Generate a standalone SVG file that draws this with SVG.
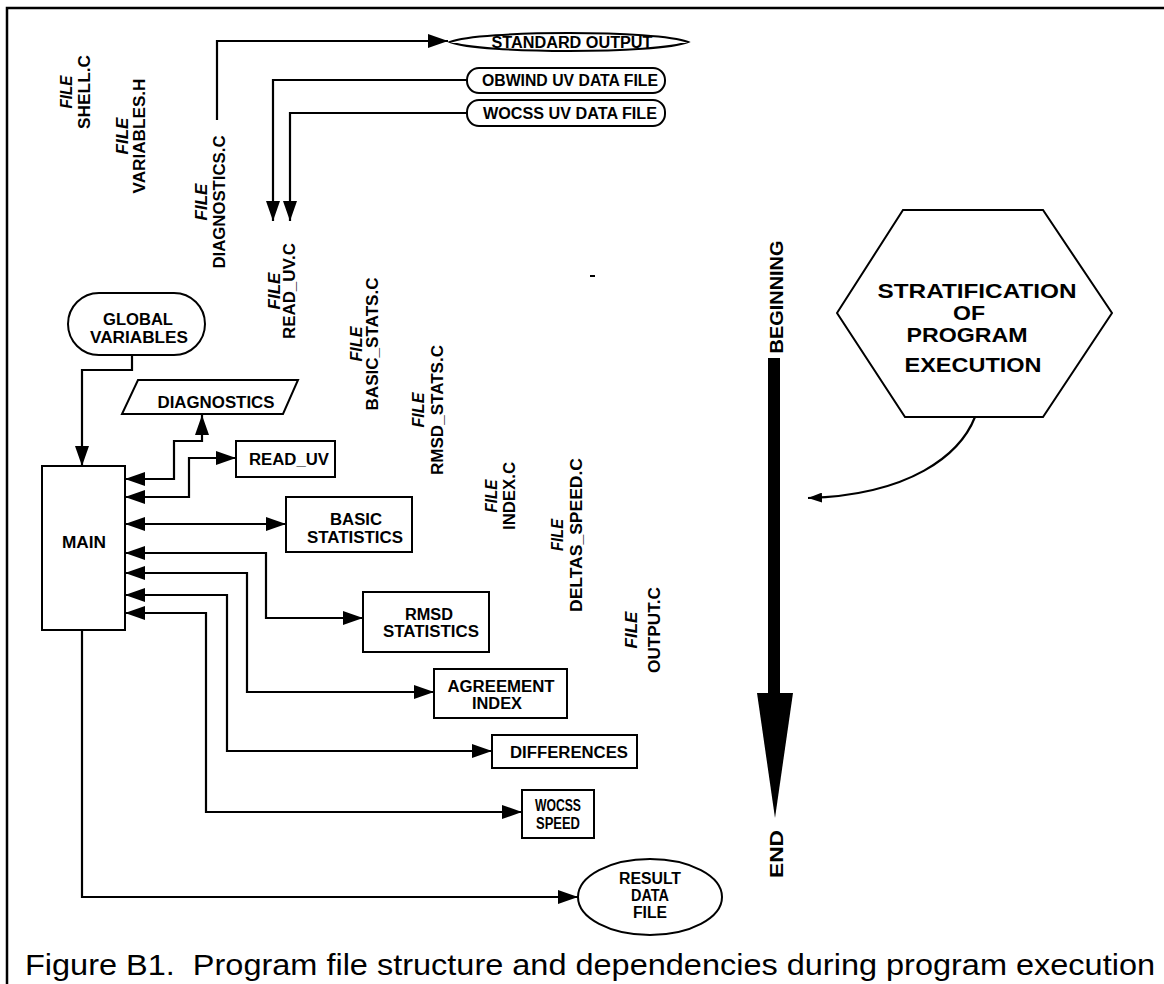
<svg xmlns="http://www.w3.org/2000/svg" width="1164" height="984" viewBox="0 0 1164 984">
<style>
.bx{fill:#fff;stroke:#000;stroke-width:2}
.lb{font-family:"Liberation Sans",Arial,sans-serif;font-weight:bold;font-size:16px;text-anchor:middle;fill:#000}
.fl{font-family:"Liberation Sans",Arial,sans-serif;font-weight:bold;font-size:16px;text-anchor:middle;fill:#000}
.it{font-style:italic}
.cn{fill:none;stroke:#000;stroke-width:2.2}
.cap{font-family:"Liberation Sans",Arial,sans-serif;font-size:29px;fill:#000}
</style>
<defs>
<marker id="ah" markerUnits="userSpaceOnUse" viewBox="0 0 20 14" markerWidth="20" markerHeight="14" refX="20" refY="7" orient="auto-start-reverse"><path d="M0,0 L20,7 L0,14 z" fill="#000"/></marker>
<marker id="ahs" markerUnits="userSpaceOnUse" viewBox="0 0 14 10" markerWidth="14" markerHeight="10" refX="14" refY="5" orient="auto"><path d="M0,0 L14,5 L0,10 z" fill="#000"/></marker>
</defs>
<rect width="1164" height="984" fill="#fff"/>
<g id="frame" fill="none" stroke="#000" stroke-width="2.5">
<path d="M7,984 V8 H1164"/>
</g>
<g id="connectors">
<path class="cn" d="M217,120 V41 H448" marker-end="url(#ah)"/>
<path class="cn" d="M467,80 H273 V221" marker-end="url(#ah)"/>
<path class="cn" d="M467,113 H290 V221" marker-end="url(#ah)"/>
<path class="cn" d="M132,355 V370 H82 V466" marker-end="url(#ah)"/>
<path class="cn" d="M125,479 H174 V441 H202 V415" marker-start="url(#ah)" marker-end="url(#ah)"/>
<path class="cn" d="M125,497 H189 V458 H236" marker-start="url(#ah)" marker-end="url(#ah)"/>
<path class="cn" d="M125,524 H286" marker-start="url(#ah)" marker-end="url(#ah)"/>
<path class="cn" d="M125,553 H266 V618 H363" marker-start="url(#ah)" marker-end="url(#ah)"/>
<path class="cn" d="M125,573 H247 V692 H434" marker-start="url(#ah)" marker-end="url(#ah)"/>
<path class="cn" d="M125,595 H227 V751 H492" marker-start="url(#ah)" marker-end="url(#ah)"/>
<path class="cn" d="M125,613 H206 V812 H522" marker-start="url(#ah)" marker-end="url(#ah)"/>
<path class="cn" d="M82,630 V897 H578" marker-end="url(#ah)"/>
<path class="cn" d="M975,417 C960,455 910,495 808,498" marker-end="url(#ahs)"/>
</g>
<g id="file-labels">
<text class="fl" transform="translate(0,92) rotate(-90)"><tspan class="it" x="0" y="72" textLength="33" lengthAdjust="spacingAndGlyphs">FILE</tspan><tspan x="0" y="90" textLength="74" lengthAdjust="spacingAndGlyphs">SHELL.C</tspan></text>
<text class="fl" transform="translate(0,136) rotate(-90)"><tspan class="it" x="0" y="128" textLength="37" lengthAdjust="spacingAndGlyphs">FILE</tspan><tspan x="0" y="145" textLength="115" lengthAdjust="spacingAndGlyphs">VARIABLES.H</tspan></text>
<text class="fl" transform="translate(0,202) rotate(-90)"><tspan class="it" x="0" y="207" textLength="37" lengthAdjust="spacingAndGlyphs">FILE</tspan><tspan x="0" y="225" textLength="133" lengthAdjust="spacingAndGlyphs">DIAGNOSTICS.C</tspan></text>
<text class="fl" transform="translate(0,291) rotate(-90)"><tspan class="it" x="0" y="280" textLength="37" lengthAdjust="spacingAndGlyphs">FILE</tspan><tspan x="0" y="295" textLength="96" lengthAdjust="spacingAndGlyphs">READ_UV.C</tspan></text>
<text class="fl" transform="translate(0,344) rotate(-90)"><tspan class="it" x="0" y="362" textLength="35" lengthAdjust="spacingAndGlyphs">FILE</tspan><tspan x="0" y="378" textLength="133" lengthAdjust="spacingAndGlyphs">BASIC_STATS.C</tspan></text>
<text class="fl" transform="translate(0,410) rotate(-90)"><tspan class="it" x="0" y="424" textLength="35" lengthAdjust="spacingAndGlyphs">FILE</tspan><tspan x="0" y="443" textLength="130" lengthAdjust="spacingAndGlyphs">RMSD_STATS.C</tspan></text>
<text class="fl" transform="translate(0,496) rotate(-90)"><tspan class="it" x="0" y="497" textLength="33" lengthAdjust="spacingAndGlyphs">FILE</tspan><tspan x="0" y="515" textLength="68" lengthAdjust="spacingAndGlyphs">INDEX.C</tspan></text>
<text class="fl" transform="translate(0,535) rotate(-90)"><tspan class="it" x="0" y="563" textLength="32" lengthAdjust="spacingAndGlyphs">FILE</tspan><tspan x="0" y="582" textLength="154" lengthAdjust="spacingAndGlyphs">DELTAS_SPEED.C</tspan></text>
<text class="fl" transform="translate(0,630) rotate(-90)"><tspan class="it" x="0" y="637" textLength="37" lengthAdjust="spacingAndGlyphs">FILE</tspan><tspan x="0" y="660" textLength="86" lengthAdjust="spacingAndGlyphs">OUTPUT.C</tspan></text>
</g>
<rect x="590" y="275" width="5" height="2" fill="#000"/>
<g id="standard-output">
<path class="bx" d="M450,42 C480,30 658,30 688,42 C658,54 480,54 450,42 Z"/>
<text class="lb" x="572" y="48" textLength="161" lengthAdjust="spacingAndGlyphs">STANDARD OUTPUT</text>
</g>
<g id="obwind-file">
<rect class="bx" x="467" y="68" width="198" height="25" rx="12"/>
<text class="lb" x="570" y="86" textLength="176" lengthAdjust="spacingAndGlyphs">OBWIND UV DATA FILE</text>
</g>
<g id="wocss-file">
<rect class="bx" x="467" y="100" width="198" height="26" rx="12"/>
<text class="lb" x="570" y="119" textLength="174" lengthAdjust="spacingAndGlyphs">WOCSS UV DATA FILE</text>
</g>
<g id="global-variables">
<rect class="bx" x="68" y="293" width="137" height="62" rx="31"/>
<text class="lb" x="138" y="325" textLength="70" lengthAdjust="spacingAndGlyphs">GLOBAL</text>
<text class="lb" x="139" y="343" textLength="98" lengthAdjust="spacingAndGlyphs">VARIABLES</text>
</g>
<g id="diagnostics">
<polygon class="bx" points="138,380 298,380 283,414 122,414"/>
<text class="lb" x="216" y="408" textLength="117" lengthAdjust="spacingAndGlyphs">DIAGNOSTICS</text>
</g>
<g id="main">
<rect class="bx" x="42" y="466" width="83" height="164"/>
<text class="lb" x="84" y="548" textLength="44" lengthAdjust="spacingAndGlyphs">MAIN</text>
</g>
<g id="read-uv">
<rect class="bx" x="236" y="441" width="99" height="36"/>
<text class="lb" x="289" y="465" textLength="80" lengthAdjust="spacingAndGlyphs">READ_UV</text>
</g>
<g id="basic-statistics">
<rect class="bx" x="286" y="497" width="126" height="55"/>
<text class="lb" x="356" y="525" textLength="52" lengthAdjust="spacingAndGlyphs">BASIC</text>
<text class="lb" x="355" y="543" textLength="96" lengthAdjust="spacingAndGlyphs">STATISTICS</text>
</g>
<g id="rmsd-statistics">
<rect class="bx" x="363" y="592" width="126" height="60"/>
<text class="lb" x="429" y="620" textLength="48" lengthAdjust="spacingAndGlyphs">RMSD</text>
<text class="lb" x="431" y="637" textLength="96" lengthAdjust="spacingAndGlyphs">STATISTICS</text>
</g>
<g id="agreement-index">
<rect class="bx" x="434" y="669" width="133" height="49"/>
<text class="lb" x="501" y="692" textLength="107" lengthAdjust="spacingAndGlyphs">AGREEMENT</text>
<text class="lb" x="497" y="709" textLength="50" lengthAdjust="spacingAndGlyphs">INDEX</text>
</g>
<g id="differences">
<rect class="bx" x="492" y="735" width="145" height="33"/>
<text class="lb" x="569" y="758" textLength="118" lengthAdjust="spacingAndGlyphs">DIFFERENCES</text>
</g>
<g id="wocss-speed">
<rect class="bx" x="522" y="790" width="72" height="48"/>
<text class="lb" x="558" y="811" textLength="46" lengthAdjust="spacingAndGlyphs">WOCSS</text>
<text class="lb" x="558" y="829" textLength="44" lengthAdjust="spacingAndGlyphs">SPEED</text>
</g>
<g id="result-data-file">
<ellipse class="bx" cx="650" cy="897" rx="72" ry="38"/>
<text class="lb" x="650" y="884" textLength="62" lengthAdjust="spacingAndGlyphs">RESULT</text>
<text class="lb" x="650" y="901" textLength="38" lengthAdjust="spacingAndGlyphs">DATA</text>
<text class="lb" x="650" y="918" textLength="34" lengthAdjust="spacingAndGlyphs">FILE</text>
</g>
<g id="stratification">
<polygon class="bx" points="837,313 903,210 1043,210 1112,313 1043,417 905,417"/>
<text class="lb" style="font-size:20px" x="977" y="298" textLength="199" lengthAdjust="spacingAndGlyphs">STRATIFICATION</text>
<text class="lb" style="font-size:20px" x="969" y="320" textLength="32" lengthAdjust="spacingAndGlyphs">OF</text>
<text class="lb" style="font-size:20px" x="967" y="342" textLength="121" lengthAdjust="spacingAndGlyphs">PROGRAM</text>
<text class="lb" style="font-size:20px" x="973" y="372" textLength="137" lengthAdjust="spacingAndGlyphs">EXECUTION</text>
</g>
<g id="timeline">
<rect x="768" y="358" width="12" height="336" fill="#000"/>
<polygon points="757,693 793,693 775,818" fill="#000"/>
<text class="fl" style="font-size:18px" transform="translate(0,297) rotate(-90)" x="0" y="783" textLength="113" lengthAdjust="spacingAndGlyphs">BEGINNING</text>
<text class="fl" style="font-size:18px" transform="translate(0,854) rotate(-90)" x="0" y="783" textLength="48" lengthAdjust="spacingAndGlyphs">END</text>
</g>
<g id="caption">
<text class="cap" x="25" y="975" textLength="1130" lengthAdjust="spacingAndGlyphs">Figure B1.&#160; Program file structure and dependencies during program execution</text>
</g>
</svg>
